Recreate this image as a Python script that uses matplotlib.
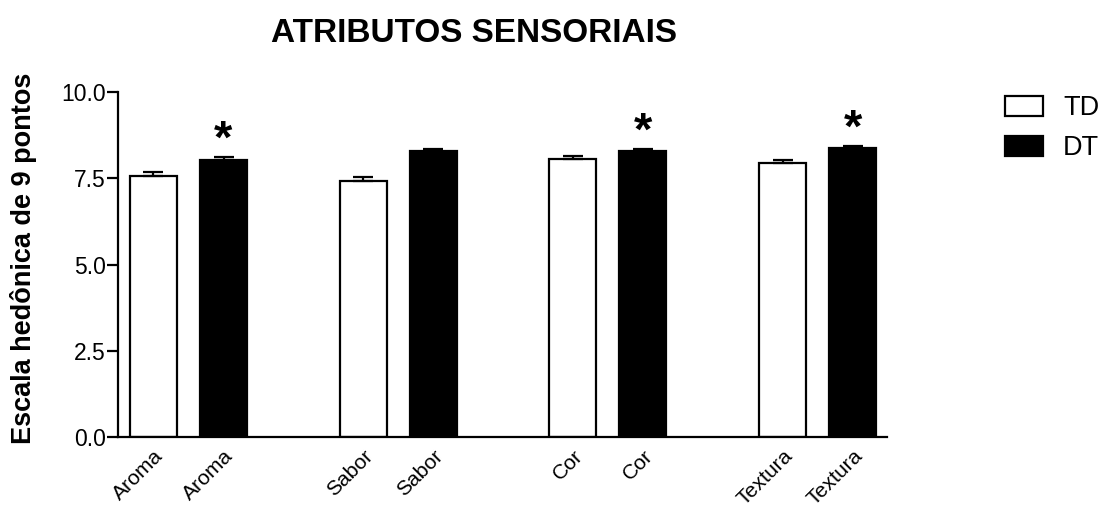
import matplotlib
matplotlib.use("Agg")
import matplotlib.pyplot as plt
import matplotlib.transforms as mtransforms
import numpy as np
from matplotlib.patches import Patch

plt.rcParams['font.family'] = ['Liberation Sans', 'DejaVu Sans']

# Sensory attribute scores (9-point hedonic scale), mean and SEM
atributos = ["Aroma", "Sabor", "Cor", "Textura"]
td_media = [7.57, 7.41, 8.05, 7.95]
td_erro = [0.10, 0.12, 0.09, 0.09]
dt_media = [8.02, 8.28, 8.28, 8.37]
dt_erro = [0.09, 0.08, 0.07, 0.06]
dt_significativo = [True, False, True, True]
grupos = ["TD", "DT"]
y_ticks = [0.0, 2.5, 5.0, 7.5, 10.0]

W, H = 1103, 512
fig = plt.figure(figsize=(W / 100, H / 100), dpi=100)
ax = fig.add_axes([118 / W, 1 - 437 / H, 769 / W, 345 / H])

passo = 4.46
desloc = 1.49
largura = 1.0
x_td = np.arange(len(atributos)) * passo
x_dt = x_td + desloc

lw = 1.6
ax.bar(x_td, td_media, width=largura, color="white", edgecolor="black", linewidth=lw, zorder=2)
ax.bar(x_dt, dt_media, width=largura, color="black", edgecolor="black", linewidth=lw, zorder=2)

zeros = np.zeros(len(atributos))
ax.errorbar(x_td, td_media, yerr=[zeros, td_erro], fmt="none", ecolor="black",
            elinewidth=lw, capsize=7.5, capthick=lw, zorder=3)
ax.errorbar(x_dt, dt_media, yerr=[zeros, dt_erro], fmt="none", ecolor="black",
            elinewidth=lw, capsize=7.5, capthick=lw, zorder=3)

for x, m, e, sig in zip(x_dt, dt_media, dt_erro, dt_significativo):
    if sig:
        ax.annotate("*", xy=(x, m + e), xytext=(0, 12), textcoords="offset points",
                    ha="center", va="center", fontsize=34, fontweight="bold", zorder=4)

ax.set_xlim(x_td[0] - 0.755, x_dt[-1] + 0.73)
ax.set_ylim(0, 10)
ax.set_yticks(y_ticks)
ax.set_yticklabels([f"{v:.1f}" for v in y_ticks])

ticks = np.empty(2 * len(atributos))
ticks[0::2] = x_td
ticks[1::2] = x_dt
ax.set_xticks(ticks)
ax.set_xticklabels([a for a in atributos for _ in grupos], rotation=45,
                   ha="right", rotation_mode="anchor")
shift = mtransforms.ScaledTranslation(-3 / 100, 2 / 100, fig.dpi_scale_trans)
for lab in ax.get_xticklabels():
    lab.set_transform(lab.get_transform() + shift)

for s in ["top", "right"]:
    ax.spines[s].set_visible(False)
for s in ["left", "bottom"]:
    ax.spines[s].set_linewidth(lw)

ax.tick_params(axis="y", length=8, width=lw, labelsize=16.5, pad=1)
ax.tick_params(axis="x", length=0, labelsize=15.2, pad=7)

ax.set_ylabel("Escala hedônica de 9 pontos", fontsize=19.5, fontweight="bold")
ax.yaxis.set_label_coords(-0.105, 0.519)
fig.text(474 / W, 1 - 34 / H, "ATRIBUTOS SENSORIAIS", ha="center", va="center",
         fontsize=24, fontweight="bold")

handles = [Patch(facecolor="white", edgecolor="black", linewidth=lw),
           Patch(facecolor="black", edgecolor="black", linewidth=lw)]
fig.legend(handles, grupos, loc="upper left", bbox_to_anchor=(1005 / W, 1 - 95 / H),
           frameon=False, fontsize=19.5, handlelength=1.4, handleheight=0.76,
           handletextpad=0.75, labelspacing=0.52, borderpad=0, borderaxespad=0)

fig.savefig("out.png", dpi=100)
